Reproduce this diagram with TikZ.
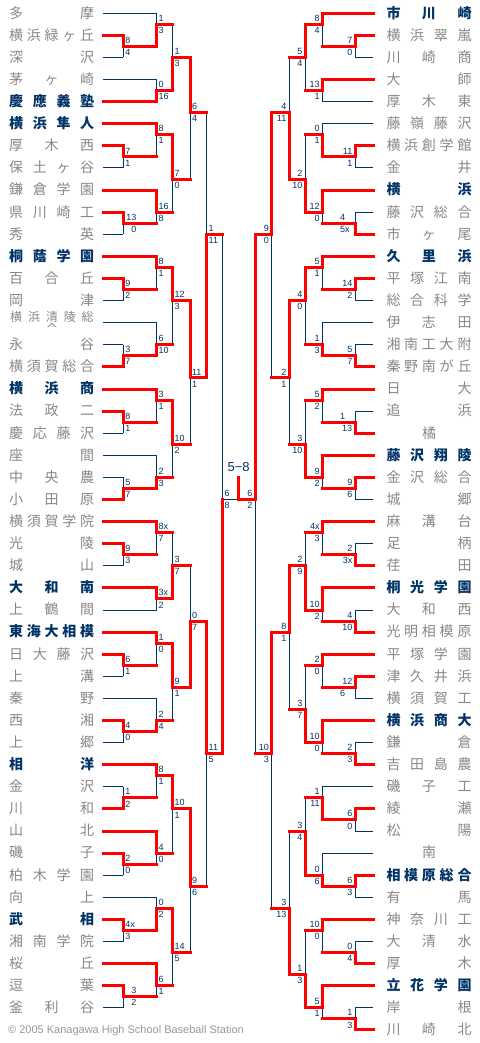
\documentclass[tikz,border=0pt]{standalone}
\usepackage{fontspec}
\setmainfont{Liberation Sans}
\newfontfamily\jp{Noto Sans CJK JP}
\definecolor{navy}{HTML}{003366}
\definecolor{gry}{HTML}{888888}
\definecolor{ftr}{HTML}{999999}
\makeatletter
\newcommand\spreadtext[2][85pt]{%
  \def\sp@out{}%
  \@tfor\sp@c:=#2\do{%
    \ifx\sp@out\@empty\edef\sp@out{\sp@c}\else\edef\sp@out{\sp@out\hfill\sp@c}\fi}%
  \hbox to #1{\hss\sp@out\hss}}
\makeatother
\newcommand\xLa{103.3}\newcommand\xLb{123.3}\newcommand\xLc{156.7}\newcommand\xLd{172.7}
\newcommand\xLe{190}\newcommand\xLf{206.7}\newcommand\xLg{222.7}
\newcommand\Cx{238.7}
\newcommand\xRa{373.3}\newcommand\xRb{355}\newcommand\xRc{322.3}\newcommand\xRd{305}
\newcommand\xRe{289}\newcommand\xRf{271.7}\newcommand\xRg{255.2}
\tikzset{
  bl/.style={draw=navy, line width=1pt},
  rd/.style={draw=red, line width=3pt, line cap=rect, line join=miter},
  sc/.style={inner sep=0pt, font=\fontsize{9}{9}\selectfont, text=navy},
  nm/.style={inner sep=0pt, anchor=base west, yshift=-4.8pt, font=\jp\fontsize{14}{14}\selectfont, text=gry},
  nmb/.style={inner sep=0pt, anchor=base west, yshift=-4.8pt, font=\jp\bfseries\fontsize{14}{14}\selectfont, text=navy},
}
% team lines
\newcommand\tmLb[3]{\draw[bl] (\xLa,#1) -- (#2,#1);}
\newcommand\tmLr[3]{\ifnum#3=1\relax\draw[rd] (\xLa,#1) -- (#2,#1);\fi}
\newcommand\tmRb[3]{\draw[bl] (\xRa,#1) -- (#2,#1);}
\newcommand\tmRr[3]{\ifnum#3=1\relax\draw[rd] (\xRa,#1) -- (#2,#1);\fi}
% matches: col, ka, kb, kout, next, kwinner, upper score, lower score
\newcommand\mtBlue[8]{\draw[bl] (#1,#2) -- (#1,#3); \draw[bl] (#1,#4) -- (#5,#4);}
\newcommand\mtRed[8]{\draw[rd] (#1,#6) -- (#1,#4) -- (#5,#4);}
\newcommand\mtLt[8]{\node[sc,anchor=south west,xshift=1.8pt,yshift=2.7pt] at (#1,#4) {#7};\node[sc,anchor=north west,xshift=1.8pt,yshift=-2.7pt] at (#1,#4) {#8};}
\newcommand\mtRt[8]{\node[sc,anchor=south east,xshift=-2.5pt,yshift=2.7pt] at (#1,#4) {#7};\node[sc,anchor=north east,xshift=-2.5pt,yshift=-2.7pt] at (#1,#4) {#8};}
\newcommand\allteams{%
\tmL{0}{\xLc}{0}\tmL{2}{\xLb}{1}\tmL{4}{\xLb}{0}\tmL{6}{\xLc}{0}\tmL{8}{\xLc}{1}%
\tmL{10}{\xLc}{1}\tmL{12}{\xLb}{1}\tmL{14}{\xLb}{0}\tmL{16}{\xLc}{1}\tmL{18}{\xLb}{1}%
\tmL{20}{\xLb}{0}\tmL{22}{\xLc}{1}\tmL{24}{\xLb}{1}\tmL{26}{\xLb}{0}\tmL{28}{\xLc}{0}%
\tmL{30}{\xLb}{0}\tmL{32}{\xLb}{1}\tmL{34}{\xLc}{1}\tmL{36}{\xLb}{1}\tmL{38}{\xLb}{0}%
\tmL{40}{\xLc}{0}\tmL{42}{\xLb}{0}\tmL{44}{\xLb}{1}\tmL{46}{\xLc}{1}\tmL{48}{\xLb}{1}%
\tmL{50}{\xLb}{0}\tmL{52}{\xLc}{1}\tmL{54}{\xLc}{0}\tmL{56}{\xLc}{1}\tmL{58}{\xLb}{1}%
\tmL{60}{\xLb}{0}\tmL{62}{\xLc}{0}\tmL{64}{\xLb}{1}\tmL{66}{\xLb}{0}\tmL{68}{\xLc}{1}%
\tmL{70}{\xLb}{0}\tmL{72}{\xLb}{1}\tmL{74}{\xLc}{1}\tmL{76}{\xLb}{1}\tmL{78}{\xLb}{0}%
\tmL{80}{\xLc}{0}\tmL{82}{\xLb}{1}\tmL{84}{\xLb}{0}\tmL{86}{\xLc}{1}\tmL{88}{\xLb}{1}%
\tmL{90}{\xLb}{0}%
\tmR{0}{\xRc}{1}\tmR{2}{\xRb}{1}\tmR{4}{\xRb}{0}\tmR{6}{\xRc}{1}\tmR{8}{\xRc}{0}%
\tmR{10}{\xRc}{0}\tmR{12}{\xRb}{1}\tmR{14}{\xRb}{0}\tmR{16}{\xRc}{1}\tmR{18}{\xRb}{0}%
\tmR{20}{\xRb}{1}\tmR{22}{\xRc}{1}\tmR{24}{\xRb}{1}\tmR{26}{\xRb}{0}\tmR{28}{\xRc}{0}%
\tmR{30}{\xRb}{0}\tmR{32}{\xRb}{1}\tmR{34}{\xRc}{1}\tmR{36}{\xRb}{0}\tmR{38}{\xRb}{1}%
\tmR{40}{\xRc}{1}\tmR{42}{\xRb}{1}\tmR{44}{\xRb}{0}\tmR{46}{\xRc}{1}\tmR{48}{\xRb}{0}%
\tmR{50}{\xRb}{1}\tmR{52}{\xRc}{1}\tmR{54}{\xRb}{0}\tmR{56}{\xRb}{1}\tmR{58}{\xRc}{1}%
\tmR{60}{\xRb}{1}\tmR{62}{\xRb}{0}\tmR{64}{\xRc}{1}\tmR{66}{\xRb}{0}\tmR{68}{\xRb}{1}%
\tmR{70}{\xRc}{0}\tmR{72}{\xRb}{1}\tmR{74}{\xRb}{0}\tmR{76}{\xRc}{0}\tmR{78}{\xRb}{1}%
\tmR{80}{\xRb}{0}\tmR{82}{\xRc}{1}\tmR{84}{\xRb}{0}\tmR{86}{\xRb}{1}\tmR{88}{\xRc}{1}%
\tmR{90}{\xRb}{0}\tmR{92}{\xRb}{1}%
}
\newcommand\allmatches{%
\mtL{\xLb}{2}{4}{3}{\xLc}{2}{8}{4}%
\mtL{\xLc}{0}{3}{1}{\xLd}{3}{1}{3}%
\mtL{\xLc}{6}{8}{7}{\xLd}{8}{0}{16}%
\mtL{\xLd}{1}{7}{4}{\xLe}{7}{1}{3}%
\mtL{\xLb}{12}{14}{13}{\xLc}{12}{7}{1}%
\mtL{\xLc}{10}{13}{11}{\xLd}{10}{8}{1}%
\mtL{\xLb}{18}{20}{19}{\xLc}{18}{}{}%
\mtL{\xLc}{16}{19}{18}{\xLd}{16}{16}{8}%
\mtL{\xLd}{11}{18}{15}{\xLe}{11}{7}{0}%
\mtL{\xLe}{4}{15}{9}{\xLf}{4}{6}{4}%
\mtL{\xLb}{24}{26}{25}{\xLc}{24}{9}{2}%
\mtL{\xLc}{22}{25}{23}{\xLd}{22}{8}{1}%
\mtL{\xLb}{30}{32}{31}{\xLc}{32}{3}{7}%
\mtL{\xLc}{28}{31}{30}{\xLd}{31}{6}{10}%
\mtL{\xLd}{23}{30}{26}{\xLe}{23}{12}{3}%
\mtL{\xLb}{36}{38}{37}{\xLc}{36}{8}{1}%
\mtL{\xLc}{34}{37}{35}{\xLd}{34}{3}{1}%
\mtL{\xLb}{42}{44}{43}{\xLc}{44}{5}{7}%
\mtL{\xLc}{40}{43}{42}{\xLd}{43}{2}{3}%
\mtL{\xLd}{35}{42}{39}{\xLe}{35}{10}{2}%
\mtL{\xLe}{26}{39}{33}{\xLf}{26}{11}{1}%
\mtL{\xLf}{9}{33}{20}{\xLg}{33}{1}{11}%
\mtL{\xLb}{48}{50}{49}{\xLc}{48}{9}{3}%
\mtL{\xLc}{46}{49}{47}{\xLd}{46}{8x}{7}%
\mtL{\xLc}{52}{54}{53}{\xLd}{52}{3x}{2}%
\mtL{\xLd}{47}{53}{50}{\xLe}{53}{3}{7}%
\mtL{\xLb}{58}{60}{59}{\xLc}{58}{6}{1}%
\mtL{\xLc}{56}{59}{57}{\xLd}{56}{1}{0}%
\mtL{\xLb}{64}{66}{65}{\xLc}{64}{4}{0}%
\mtL{\xLc}{62}{65}{64}{\xLd}{65}{2}{4}%
\mtL{\xLd}{57}{64}{61}{\xLe}{57}{9}{1}%
\mtL{\xLe}{50}{61}{55}{\xLf}{61}{0}{7}%
\mtL{\xLb}{70}{72}{71}{\xLc}{72}{1}{2}%
\mtL{\xLc}{68}{71}{69}{\xLd}{68}{8}{1}%
\mtL{\xLb}{76}{78}{77}{\xLc}{76}{2}{0}%
\mtL{\xLc}{74}{77}{76}{\xLd}{74}{4}{0}%
\mtL{\xLd}{69}{76}{72}{\xLe}{69}{10}{1}%
\mtL{\xLb}{82}{84}{83}{\xLc}{82}{4x}{3}%
\mtL{\xLc}{80}{83}{81}{\xLd}{83}{0}{2}%
\mtL{\xLb}{88}{90}{89}{\xLc}{88}{}{}%
\mtL{\xLc}{86}{89}{88}{\xLd}{86}{6}{1}%
\mtL{\xLd}{81}{88}{85}{\xLe}{81}{14}{5}%
\mtL{\xLe}{72}{85}{79}{\xLf}{72}{9}{6}%
\mtL{\xLf}{55}{79}{67}{\xLg}{55}{11}{5}%
\mtR{\xRb}{2}{4}{3}{\xRc}{2}{7}{0}%
\mtR{\xRc}{0}{3}{1}{\xRd}{0}{8}{4}%
\mtR{\xRc}{6}{8}{7}{\xRd}{6}{13}{1}%
\mtR{\xRd}{1}{7}{4}{\xRe}{1}{5}{4}%
\mtR{\xRb}{12}{14}{13}{\xRc}{12}{11}{1}%
\mtR{\xRc}{10}{13}{11}{\xRd}{13}{0}{1}%
\mtR{\xRb}{18}{20}{19}{\xRc}{20}{}{}%
\mtR{\xRc}{16}{19}{18}{\xRd}{16}{12}{0}%
\mtR{\xRd}{11}{18}{15}{\xRe}{18}{2}{10}%
\mtR{\xRe}{4}{15}{9}{\xRf}{15}{4}{11}%
\mtR{\xRb}{24}{26}{25}{\xRc}{24}{14}{2}%
\mtR{\xRc}{22}{25}{23}{\xRd}{22}{5}{1}%
\mtR{\xRb}{30}{32}{31}{\xRc}{32}{5}{7}%
\mtR{\xRc}{28}{31}{30}{\xRd}{31}{1}{3}%
\mtR{\xRd}{23}{30}{26}{\xRe}{23}{4}{0}%
\mtR{\xRb}{36}{38}{37}{\xRc}{38}{}{}%
\mtR{\xRc}{34}{37}{35}{\xRd}{34}{5}{2}%
\mtR{\xRb}{42}{44}{43}{\xRc}{42}{9}{6}%
\mtR{\xRc}{40}{43}{42}{\xRd}{40}{9}{2}%
\mtR{\xRd}{35}{42}{39}{\xRe}{42}{3}{10}%
\mtR{\xRe}{26}{39}{33}{\xRf}{26}{2}{1}%
\mtR{\xRf}{9}{33}{20}{\xRg}{9}{9}{0}%
\mtR{\xRb}{48}{50}{49}{\xRc}{50}{2}{3x}%
\mtR{\xRc}{46}{49}{47}{\xRd}{46}{4x}{3}%
\mtR{\xRb}{54}{56}{55}{\xRc}{56}{4}{10}%
\mtR{\xRc}{52}{55}{54}{\xRd}{52}{10}{2}%
\mtR{\xRd}{47}{54}{50}{\xRe}{54}{2}{9}%
\mtR{\xRb}{60}{62}{61}{\xRc}{60}{12}{}%
\mtR{\xRc}{58}{61}{59}{\xRd}{58}{2}{0}%
\mtR{\xRb}{66}{68}{67}{\xRc}{68}{2}{3}%
\mtR{\xRc}{64}{67}{66}{\xRd}{64}{10}{0}%
\mtR{\xRd}{59}{66}{63}{\xRe}{66}{3}{7}%
\mtR{\xRe}{50}{63}{56}{\xRf}{50}{8}{1}%
\mtR{\xRb}{72}{74}{73}{\xRc}{72}{6}{0}%
\mtR{\xRc}{70}{73}{71}{\xRd}{73}{1}{11}%
\mtR{\xRb}{78}{80}{79}{\xRc}{78}{6}{3}%
\mtR{\xRc}{76}{79}{78}{\xRd}{79}{0}{6}%
\mtR{\xRd}{71}{78}{74}{\xRe}{78}{3}{4}%
\mtR{\xRb}{84}{86}{85}{\xRc}{86}{0}{4}%
\mtR{\xRc}{82}{85}{83}{\xRd}{82}{10}{0}%
\mtR{\xRb}{90}{92}{91}{\xRc}{92}{1}{3}%
\mtR{\xRc}{88}{91}{90}{\xRd}{88}{5}{1}%
\mtR{\xRd}{83}{90}{87}{\xRe}{90}{1}{3}%
\mtR{\xRe}{74}{87}{81}{\xRf}{87}{3}{13}%
\mtR{\xRf}{56}{81}{67}{\xRg}{56}{10}{3}%
\mtR{\xRg}{20}{67}{44}{\Cx}{20}{6}{2}%
}
\newcommand\nmL[3]{\node[#2] (nl#1) at (9,#1) {\spreadtext{#3}};}
\newcommand\nmR[3]{\node[#2] (nr#1) at (386.3,#1) {\spreadtext{#3}};}
\begin{document}
\begin{tikzpicture}[x=1pt,y=-11.05pt]
\fill[white] (0pt,0pt) rectangle (479pt,-1043pt);
\path[use as bounding box] (0pt,0pt) rectangle (479pt,-1043pt);
\begin{scope}[yshift=-13.3pt]
% ---- pass 1: blue skeleton
\let\tmL\tmLb \let\tmR\tmRb \allteams
\let\mtL\mtBlue \let\mtR\mtBlue \allmatches
\draw[bl] (\xLg,20) -- (\xLg,67);
\draw[bl] (\xLg,44) -- (\Cx,44);
% ---- pass 2: red winner paths
\let\tmL\tmLr \let\tmR\tmRr \allteams
\let\mtL\mtRed \let\mtR\mtRed \allmatches
\draw[rd] (\xLg,67) -- (\xLg,44);
\draw[rd] (\Cx,44) -- (\Cx,42);
% ---- pass 3: scores
\let\mtL\mtLt \let\mtR\mtRt \allmatches
\node[sc,anchor=south west,xshift=1.8pt,yshift=2.7pt] (sl6) at (\xLg,44) {6};
\node[sc,anchor=north west,xshift=1.8pt,yshift=-2.7pt] (sl8) at (\xLg,44) {8};
\node[sc,anchor=south east,yshift=2.7pt] (s13a) at (136.7,19) {13};
\node[sc,anchor=north east,yshift=-2.7pt] (s0a) at (136.7,19) {0};
\node[sc,anchor=south east,yshift=2.7pt] (s3a) at (136.7,89) {3};
\node[sc,anchor=north east,yshift=-2.7pt] (s2a) at (136.7,89) {2};
\node[sc,anchor=south west,yshift=2.7pt] (s4b) at (340,19) {4};
\node[sc,anchor=north west,yshift=-2.7pt] (s5b) at (340,19) {5x};
\node[sc,anchor=south west,yshift=2.7pt] (s1c) at (340,37) {1};
\node[sc,anchor=north east,yshift=-2.7pt] (s13c) at (352.3,37) {13};
\node[sc,anchor=north west,yshift=-2.7pt] (s6d) at (340,61) {6};
\node[anchor=base, inner sep=0pt, font=\fontsize{13}{13}\selectfont, text=navy] (final) at (\Cx,41.49) {5−8};
% ---- names left
\nmL{0}{nm}{多摩}\nmL{2}{nm}{横浜緑ヶ丘}\nmL{4}{nm}{深沢}\nmL{6}{nm}{茅ヶ崎}
\nmL{8}{nmb}{慶應義塾}\nmL{10}{nmb}{横浜隼人}\nmL{12}{nm}{厚木西}\nmL{14}{nm}{保土ヶ谷}
\nmL{16}{nm}{鎌倉学園}\nmL{18}{nm}{県川崎工}\nmL{20}{nm}{秀英}\nmL{22}{nmb}{桐蔭学園}
\nmL{24}{nm}{百合丘}\nmL{26}{nm}{岡津}
\begin{scope}
\clip (0,26.76) rectangle (100,28.34);
\node[inner sep=0pt, anchor=base west, font=\jp\fontsize{12}{12}\selectfont, text=gry] (nl28) at (10,27.9) {\spreadtext[83.5pt]{横浜清陵総}};
\node[inner sep=0pt, anchor=base west, font=\jp\fontsize{12}{12}\selectfont, text=gry] (nl28b) at (10,28.99) {\spreadtext[83.5pt]{合}};
\end{scope}
\nmL{30}{nm}{永谷}\nmL{32}{nm}{横須賀総合}\nmL{34}{nmb}{横浜商}\nmL{36}{nm}{法政二}
\nmL{38}{nm}{慶応藤沢}\nmL{40}{nm}{座間}\nmL{42}{nm}{中央農}\nmL{44}{nm}{小田原}
\nmL{46}{nm}{横須賀学院}\nmL{48}{nm}{光陵}\nmL{50}{nm}{城山}\nmL{52}{nmb}{大和南}
\nmL{54}{nm}{上鶴間}\nmL{56}{nmb}{東海大相模}\nmL{58}{nm}{日大藤沢}\nmL{60}{nm}{上溝}
\nmL{62}{nm}{秦野}\nmL{64}{nm}{西湘}\nmL{66}{nm}{上郷}\nmL{68}{nmb}{相洋}
\nmL{70}{nm}{金沢}\nmL{72}{nm}{川和}\nmL{74}{nm}{山北}\nmL{76}{nm}{磯子}
\nmL{78}{nm}{柏木学園}\nmL{80}{nm}{向上}\nmL{82}{nmb}{武相}\nmL{84}{nm}{湘南学院}
\nmL{86}{nm}{桜丘}\nmL{88}{nm}{逗葉}\nmL{90}{nm}{釜利谷}
% ---- names right
\nmR{0}{nmb}{市川崎}\nmR{2}{nm}{横浜翠嵐}\nmR{4}{nm}{川崎商}\nmR{6}{nm}{大師}
\nmR{8}{nm}{厚木東}\nmR{10}{nm}{藤嶺藤沢}\nmR{12}{nm}{横浜創学館}\nmR{14}{nm}{金井}
\nmR{16}{nmb}{横浜}\nmR{18}{nm}{藤沢総合}\nmR{20}{nm}{市ヶ尾}\nmR{22}{nmb}{久里浜}
\nmR{24}{nm}{平塚江南}\nmR{26}{nm}{総合科学}\nmR{28}{nm}{伊志田}\nmR{30}{nm}{湘南工大附}
\nmR{32}{nm}{秦野南が丘}\nmR{34}{nm}{日大}\nmR{36}{nm}{追浜}\nmR{38}{nm}{橘}
\nmR{40}{nmb}{藤沢翔陵}\nmR{42}{nm}{金沢総合}\nmR{44}{nm}{城郷}\nmR{46}{nm}{麻溝台}
\nmR{48}{nm}{足柄}\nmR{50}{nm}{荏田}\nmR{52}{nmb}{桐光学園}\nmR{54}{nm}{大和西}
\nmR{56}{nm}{光明相模原}\nmR{58}{nm}{平塚学園}\nmR{60}{nm}{津久井浜}\nmR{62}{nm}{横須賀工}
\nmR{64}{nmb}{横浜商大}\nmR{66}{nm}{鎌倉}\nmR{68}{nm}{吉田島農}\nmR{70}{nm}{磯子工}
\nmR{72}{nm}{綾瀬}\nmR{74}{nm}{松陽}\nmR{76}{nm}{南}\nmR{78}{nmb}{相模原総合}
\nmR{80}{nm}{有馬}\nmR{82}{nm}{神奈川工}\nmR{84}{nm}{大清水}\nmR{86}{nm}{厚木}
\nmR{88}{nmb}{立花学園}\nmR{90}{nm}{岸根}\nmR{92}{nm}{川崎北}
\end{scope}
\node[anchor=base west, inner sep=0pt, font=\fontsize{11}{11}\selectfont, text=ftr] (foot) at (8pt,-1033.7pt) {© 2005 Kanagawa High School Baseball Station};
\end{tikzpicture}
\end{document}
